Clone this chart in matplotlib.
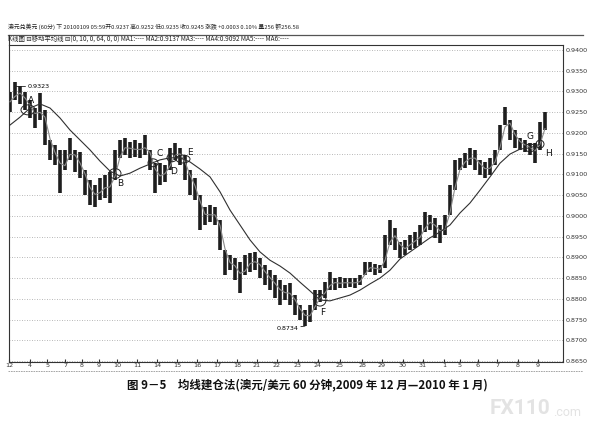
import numpy as np
import pandas as pd
import matplotlib
matplotlib.use('Agg')
import matplotlib.pyplot as plt
from matplotlib.patches import Ellipse
from matplotlib.lines import Line2D

plt.rcParams['font.family'] = ['Noto Sans CJK SC', 'DejaVu Sans']

# ---- data ----
highs = [0.9299, 0.9323, 0.9313, 0.9299, 0.9279, 0.9260, 0.9296, 0.9255, 0.9183, 0.9171,
         0.9159, 0.9159, 0.9188, 0.9159, 0.9154, 0.9111, 0.9086, 0.9074, 0.9091, 0.9099,
         0.9106, 0.9159, 0.9183, 0.9188, 0.9178, 0.9183, 0.9176, 0.9195, 0.9159, 0.9128,
         0.9128, 0.9123, 0.9164, 0.9176, 0.9164, 0.9147, 0.9111, 0.9091, 0.9050, 0.9021,
         0.9026, 0.9021, 0.8990, 0.8918, 0.8906, 0.8898, 0.8889, 0.8906, 0.8911, 0.8913,
         0.8898, 0.8881, 0.8869, 0.8857, 0.8845, 0.8833, 0.8838, 0.8809, 0.8785, 0.8773,
         0.8785, 0.8821, 0.8821, 0.8840, 0.8865, 0.8850, 0.8853, 0.8850, 0.8850, 0.8850,
         0.8857, 0.8889, 0.8889, 0.8884, 0.8881, 0.8954, 0.8990, 0.8971, 0.8937, 0.8942,
         0.8954, 0.8961, 0.8978, 0.9009, 0.9002, 0.8995, 0.8978, 0.9002, 0.9074, 0.9135,
         0.9139, 0.9152, 0.9164, 0.9159, 0.9135, 0.9130, 0.9139, 0.9159, 0.9219, 0.9262,
         0.9231, 0.9207, 0.9188, 0.9183, 0.9176, 0.9176, 0.9226, 0.9250]
lows = [0.9251, 0.9279, 0.9270, 0.9255, 0.9236, 0.9212, 0.9231, 0.9171, 0.9135, 0.9123,
        0.9055, 0.9111, 0.9135, 0.9106, 0.9091, 0.9050, 0.9026, 0.9021, 0.9038, 0.9043,
        0.9031, 0.9086, 0.9139, 0.9147, 0.9139, 0.9142, 0.9139, 0.9147, 0.9111, 0.9055,
        0.9074, 0.9082, 0.9111, 0.9135, 0.9123, 0.9086, 0.9050, 0.9038, 0.8966, 0.8978,
        0.8985, 0.8978, 0.8918, 0.8857, 0.8869, 0.8845, 0.8814, 0.8857, 0.8865, 0.8869,
        0.8850, 0.8833, 0.8821, 0.8802, 0.8785, 0.8797, 0.8785, 0.8761, 0.8749, 0.8734,
        0.8744, 0.8773, 0.8792, 0.8802, 0.8821, 0.8821, 0.8826, 0.8826, 0.8828, 0.8826,
        0.8833, 0.8857, 0.8865, 0.8857, 0.8862, 0.8874, 0.8930, 0.8918, 0.8898, 0.8906,
        0.8918, 0.8923, 0.8930, 0.8961, 0.8966, 0.8947, 0.8935, 0.8954, 0.9002, 0.9062,
        0.9111, 0.9116, 0.9123, 0.9111, 0.9099, 0.9091, 0.9099, 0.9123, 0.9159, 0.9219,
        0.9183, 0.9164, 0.9159, 0.9154, 0.9147, 0.9128, 0.9159, 0.9207]
# slow moving average (MA 64), read every second bar
slow_ma = [0.9219, 0.9238, 0.9260, 0.9270, 0.9260, 0.9236, 0.9207, 0.9183, 0.9159, 0.9132,
           0.9108, 0.9096, 0.9103, 0.9115, 0.9125, 0.9135, 0.9140, 0.9140, 0.9130, 0.9113,
           0.9094, 0.9058, 0.9014, 0.8978, 0.8942, 0.8913, 0.8893, 0.8879, 0.8862, 0.8840,
           0.8819, 0.8797, 0.8795, 0.8802, 0.8809, 0.8821, 0.8836, 0.8850, 0.8869, 0.8896,
           0.8913, 0.8930, 0.8947, 0.8961, 0.8978, 0.9007, 0.9031, 0.9062, 0.9094, 0.9127,
           0.9149, 0.9161, 0.9164, 0.9173]
day_labels = ['12', '4', '5', '7', '8', '9', '10', '11', '14', '15', '16', '17', '18', '21',
              '22', '23', '24', '25', '28', '29', '30', '31', '1', '5', '6', '7', '8', '9']
day_bars = [-0.2, 4, 7.4, 11, 14.4, 17.8, 21.4, 25.4, 29.4, 33.4, 37.4, 41.4, 45.4, 49.4,
            53.4, 57.6, 61.6, 66, 70.4, 74.4, 78.6, 82.6, 86.8, 90, 93.6, 97.4, 101.6, 105.6]
mark_names = ['A', 'B', 'C', 'D', 'E', 'F', 'G', 'H']
mark_bars = [3.6, 21, 28.6, 32.4, 34.6, 62, 104, 106]
y_levels = [round(0.8650 + 0.005 * k, 4) for k in range(16)]

header1 = '澳元兑美元 (60分) 下 20100109 05:59开0.9237 高0.9252 低0.9235 收0.9245 涨跌 +0.0003 0.10% 量256 额256.58'
header2 = 'K线图 ⊟移动平均线 ⊟(0, 10, 0, 64, 0, 0) MA1:---- MA2:0.9137 MA3:---- MA4:0.9092 MA5:---- MA6:----'
caption = '图 9－5　均线建仓法(澳元/美元 60 分钟,2009 年 12 月—2010 年 1 月)'

# ---- figure ----
W, H = 592, 428
fig = plt.figure(figsize=(W / 100, H / 100), dpi=100)
fig.patch.set_facecolor('white')

def fx(px):
    return px / W

def fy(py):
    return 1 - py / H

ax = fig.add_axes([fx(9), fy(362), fx(563) - fx(9), fy(45) - fy(362)])

n = len(highs)
idx = np.arange(n)
hi = np.array(highs)
lo = np.array(lows)
mid = (hi + lo) / 2

for yl in y_levels:
    ax.axhline(yl, color='#a0a0a0', lw=0.6, ls=(0, (1, 2)), zorder=0)

ax.vlines(idx, lo, hi, color='#1e1e1e', lw=2.6, zorder=2)
fast = pd.Series(mid).rolling(2, min_periods=1).mean()
ax.plot(idx, fast, color='#8a8a8a', lw=0.8, zorder=3)
slow_x = np.arange(0, 2 * len(slow_ma), 2)
ax.plot(slow_x, slow_ma, color='#303030', lw=0.8, zorder=3)

ell_sizes = [(2.8, 0.0024), (2.4, 0.0024), (2.0, 0.0019), (2.0, 0.0019), (2.8, 0.0019),
             (2.4, 0.0029), (2.0, 0.0019), (1.6, 0.0019)]
label_off = [(2, 7), (4, -7), (5, 7), (1, -10), (5, 5), (2, -9), (0, 8), (6, -7)]
for name, b, (ew, eh), (ox, oy) in zip(mark_names, mark_bars, ell_sizes, label_off):
    yv = np.interp(b, slow_x, slow_ma)
    ax.add_patch(Ellipse((b, yv), ew, eh, fill=False, ec='#222222', lw=0.7, zorder=4))
    ax.annotate(name, (b, yv), xytext=(ox, oy), textcoords='offset points',
                fontsize=6.5, ha='center', va='center', color='#111111',
                family='DejaVu Sans')

# peak / trough annotations
pk = int(np.argmax(hi))
ax.annotate(f'{hi[pk]:.4f}', (pk, hi[pk]), xytext=(9, -3), textcoords='offset points',
            fontsize=4.6, ha='left', va='center', family='DejaVu Sans',
            arrowprops=dict(arrowstyle='-', lw=0.6, color='#222222',
                            connectionstyle='angle,angleA=0,angleB=90,rad=0',
                            shrinkA=0, shrinkB=0))
tr = int(np.argmin(lo))
ax.annotate(f'{lo[tr]:.4f}', (tr, lo[tr]), xytext=(-5, -1.5), textcoords='offset points',
            fontsize=4.6, ha='right', va='center', family='DejaVu Sans',
            arrowprops=dict(arrowstyle='-', lw=0.6, color='#222222', shrinkA=0, shrinkB=0))

ax.set_xlim(-0.2, 110.6)
ax.set_ylim(0.86476, 0.9412)
ax.yaxis.tick_right()
ax.set_yticks(y_levels)
ax.set_yticklabels([f'{v:.4f}' for v in y_levels], fontsize=4.6, family='DejaVu Sans')
ax.tick_params(axis='y', length=0, pad=2, colors='#333333')
ax.set_xticks(day_bars)
ax.set_xticklabels(day_labels, fontsize=4.6, family='DejaVu Sans')
ax.tick_params(axis='x', length=2, direction='in', pad=1, colors='#333333')
for s in ax.spines.values():
    s.set_color('#333333')
    s.set_linewidth(0.8)

# header and frame lines
fig.text(fx(8), fy(27), header1, fontsize=4.2, ha='left', va='center', color='#222222')
fig.text(fx(8), fy(40), header2, fontsize=4.6, ha='left', va='center', color='#222222')
fig.add_artist(Line2D([fx(8), fx(583)], [fy(34.5), fy(34.5)], color='#555555', lw=0.9))
fig.add_artist(Line2D([fx(8), fx(583)], [fy(371), fy(371)], color='#999999', lw=0.6,
                      ls=(0, (2, 1))))
fig.add_artist(Line2D([fx(9), fx(9)], [fy(34.5), fy(45)], color='#333333', lw=0.8))

fig.text(fx(307), fy(385), caption, fontsize=8.3, fontweight='bold', ha='center',
         va='center', color='#111111')

fig.text(fx(490), fy(409), 'FX110', fontsize=15, fontweight='bold', ha='left',
         va='center', color='#e3e3e3', family='Roboto')
fig.text(fx(553), fy(412), '.com', fontsize=9, ha='left', va='center', color='#e3e3e3',
         family='Roboto')

fig.savefig('out.png', dpi=100, facecolor='white')
